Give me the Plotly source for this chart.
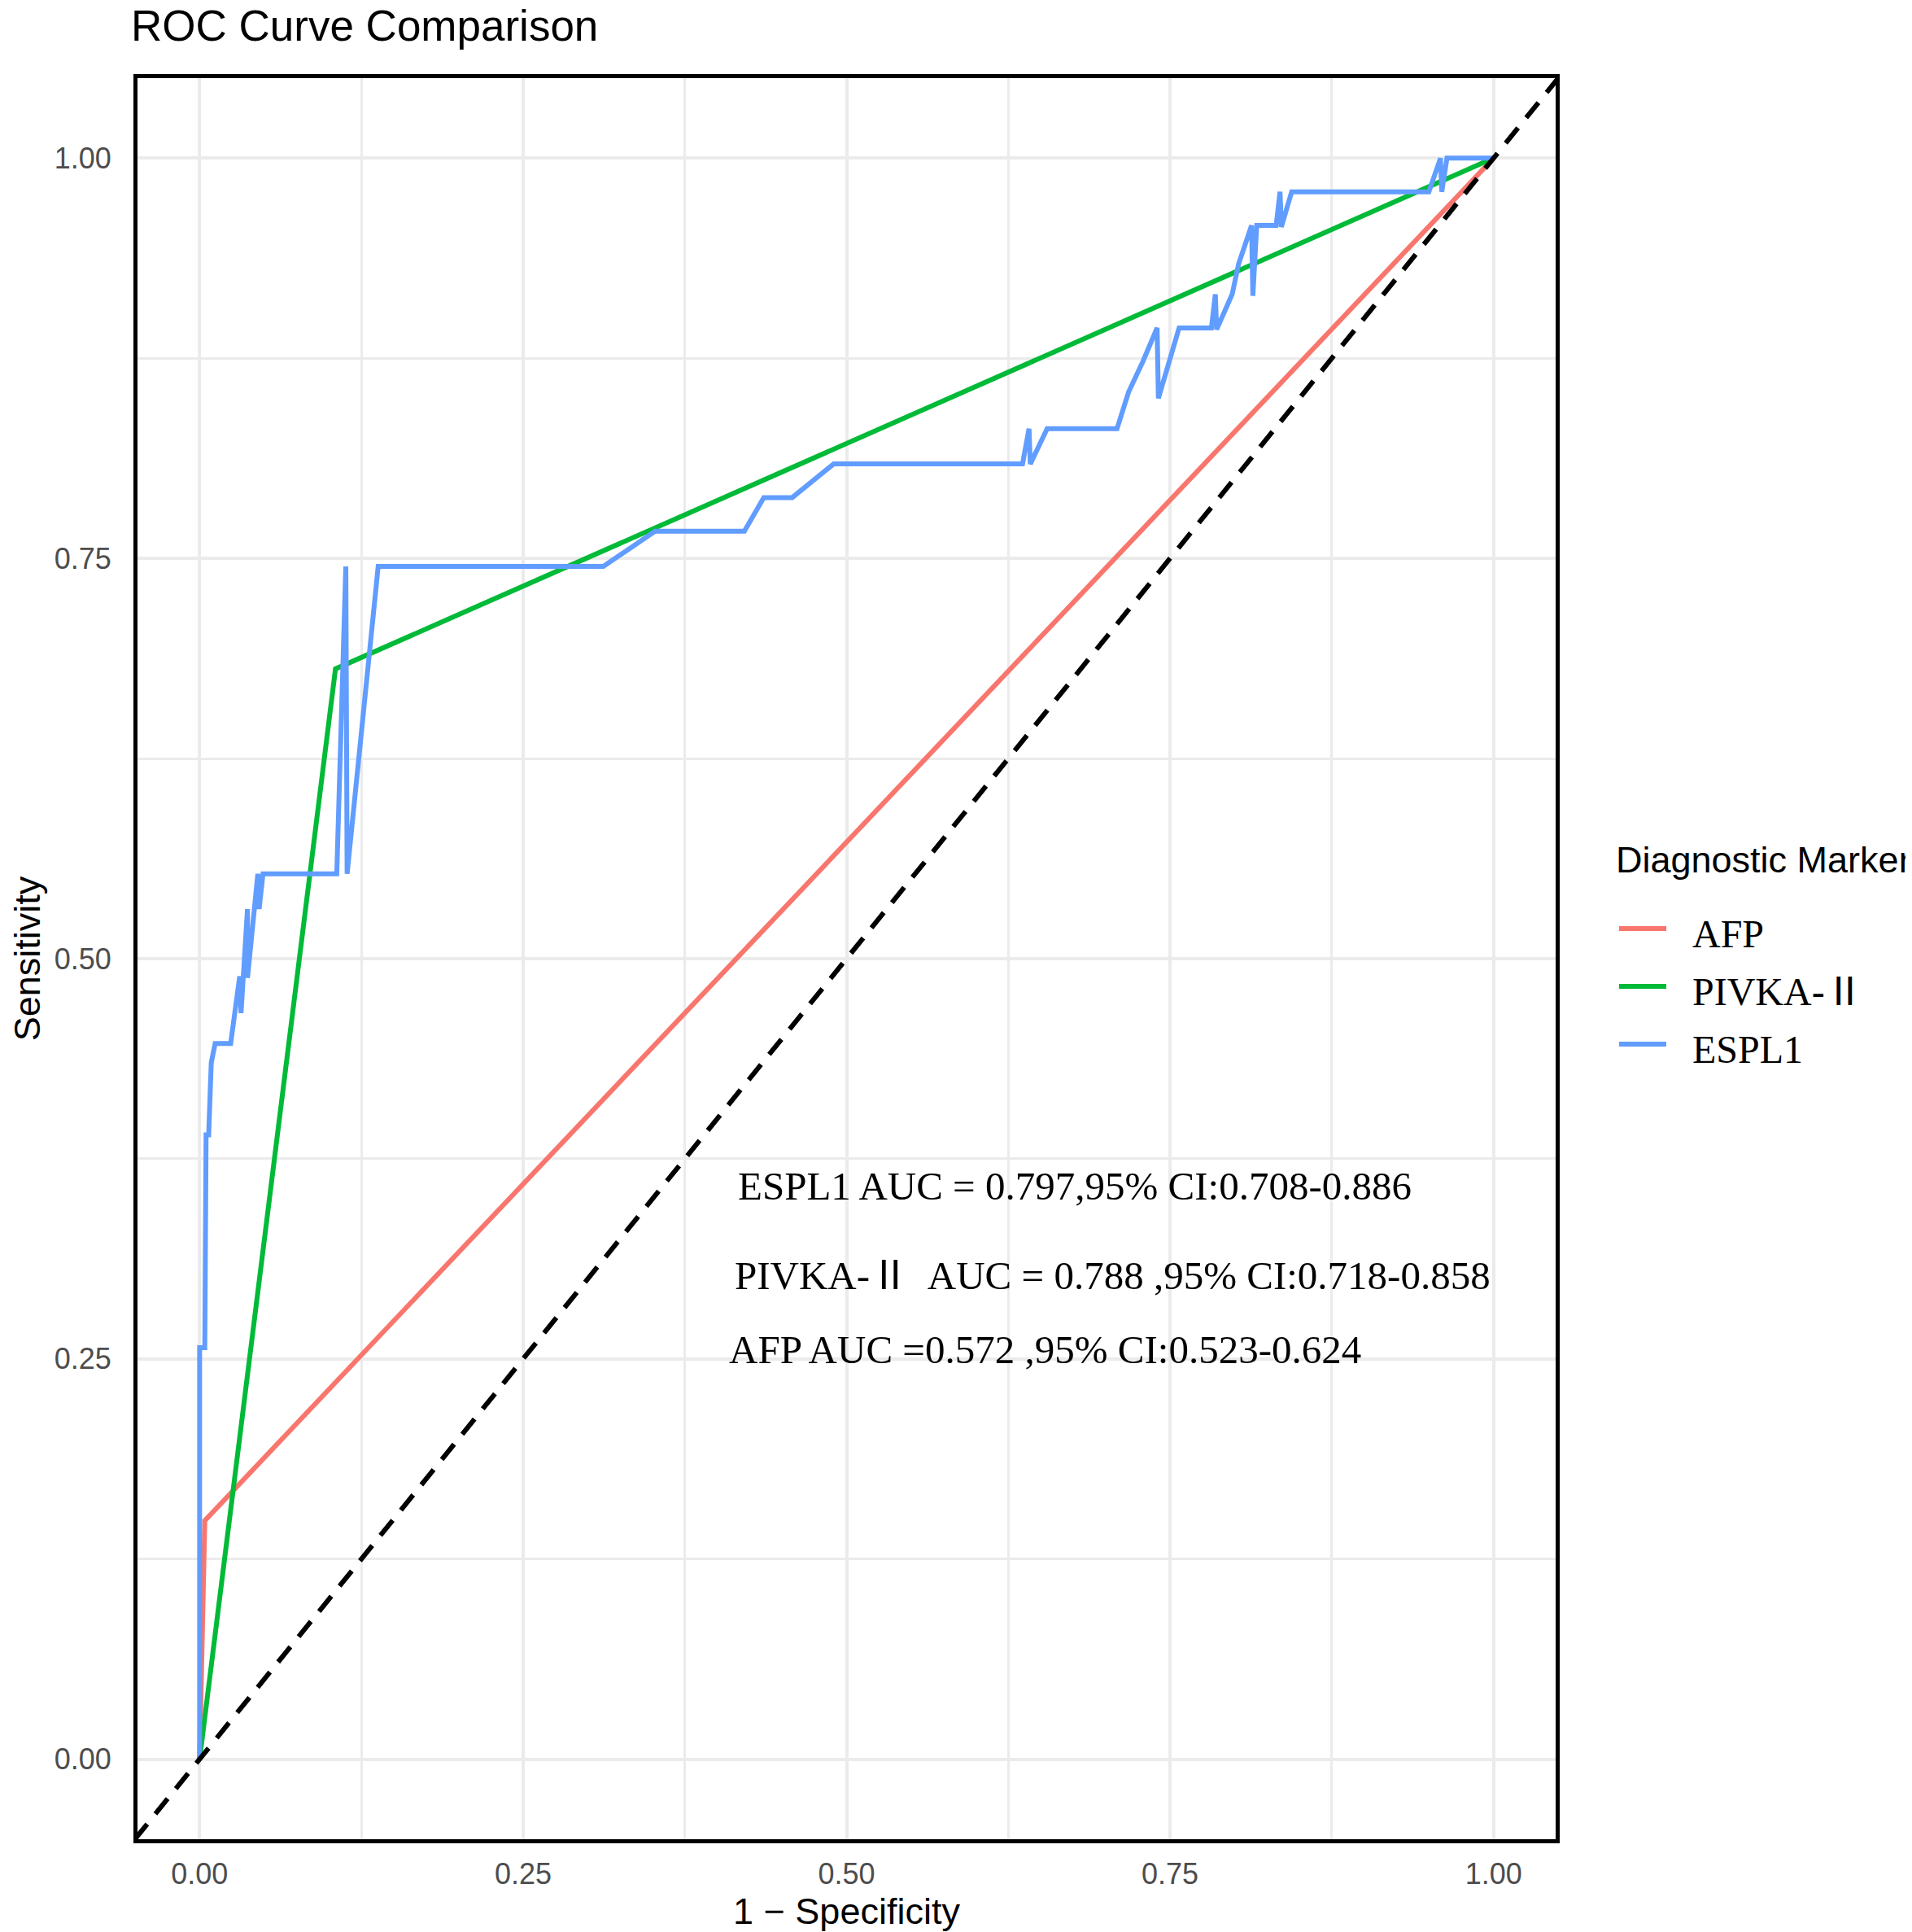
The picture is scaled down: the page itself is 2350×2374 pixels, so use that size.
import plotly.graph_objects as go

# ── ROC paths (1 - specificity, sensitivity) ─────────────────────────────────
afp_fpr  = [0.000, 0.004, 1.000]
afp_sens = [0.000, 0.149, 1.000]

pivka_fpr  = [0.000, 0.105, 1.000]
pivka_sens = [0.000, 0.681, 1.000]

espl1_fpr = [0.000, 0.000, 0.004, 0.005, 0.007, 0.008, 0.009, 0.012, 0.024,
             0.031, 0.032, 0.037, 0.037, 0.045, 0.046, 0.049, 0.106, 0.113,
             0.114, 0.138, 0.312, 0.352, 0.421, 0.436, 0.458, 0.490, 0.636,
             0.641, 0.642, 0.655, 0.709, 0.718, 0.729, 0.740, 0.741, 0.757,
             0.782, 0.785, 0.786, 0.798, 0.803, 0.813, 0.814, 0.817, 0.832,
             0.835, 0.836, 0.844, 0.950, 0.959, 0.960, 0.964, 1.000]
espl1_sens = [0.000, 0.257, 0.257, 0.390, 0.390, 0.425, 0.435, 0.447, 0.447,
              0.489, 0.466, 0.531, 0.488, 0.553, 0.531, 0.553, 0.553, 0.745,
              0.553, 0.745, 0.745, 0.767, 0.767, 0.788, 0.788, 0.809, 0.809,
              0.831, 0.809, 0.831, 0.831, 0.854, 0.873, 0.894, 0.850, 0.894,
              0.894, 0.915, 0.893, 0.915, 0.934, 0.958, 0.914, 0.958, 0.958,
              0.979, 0.957, 0.979, 0.979, 1.000, 0.979, 1.000, 1.000]

ref_line = [-0.05, 1.05]          # chance diagonal
tick_vals = [0.00, 0.25, 0.50, 0.75, 1.00]

markers = ["AFP", "PIVKA-Ⅱ", "ESPL1"]
colors  = ["#F8766D", "#00BA38", "#619CFF"]

auc_texts = ["ESPL1 AUC = 0.797,95% CI:0.708-0.886",
             "PIVKA-Ⅱ  AUC = 0.788 ,95% CI:0.718-0.858",
             "AFP AUC =0.572 ,95% CI:0.523-0.624"]
auc_x = [0.415, 0.412, 0.408]
auc_y = [0.358, 0.302, 0.256]

SANS  = "Liberation Sans, Arial, sans-serif"
SERIF = "Liberation Serif, Noto Sans CJK SC, serif"

# ── page geometry (px) ────────────────────────────────────────────────────────
W, H = 2350, 2374
ML, MT, PW, PH = 161, 88, 1743, 2164
MR, MB = W - ML - PW, H - MT - PH


def px_x(px):
    return (px - ML) / PW


def px_y(py):
    return 1 - (py - MT) / PH


fig = go.Figure()

for name, xs, ys, col in zip(markers,
                             [afp_fpr, pivka_fpr, espl1_fpr],
                             [afp_sens, pivka_sens, espl1_sens],
                             colors):
    fig.add_trace(go.Scatter(
        x=xs, y=ys, mode="lines", name=name, showlegend=False,
        line=dict(color=col, width=6),
    ))

# diagonal reference
fig.add_trace(go.Scatter(
    x=ref_line, y=ref_line, mode="lines", showlegend=False,
    line=dict(color="black", width=6, dash="24px,16px"),
    hoverinfo="skip",
))

for txt, xa, ya in zip(auc_texts, auc_x, auc_y):
    fig.add_annotation(
        x=xa, y=ya, xref="x", yref="y", text=txt,
        showarrow=False, xanchor="left", yanchor="middle",
        font=dict(family=SERIF, size=49, color="black"),
    )

# ── legend drawn by hand (ggplot-like spacing) ───────────────────────────────
fig.add_annotation(
    x=px_x(1976), y=px_y(1048), xref="paper", yref="paper",
    text="Diagnostic Marker", showarrow=False,
    xanchor="left", yanchor="middle",
    font=dict(family=SANS, size=45, color="black"),
)
for i, (name, col) in enumerate(zip(markers, colors)):
    ly = 1133 + i * 71
    fig.add_shape(type="line", xref="paper", yref="paper",
                  x0=px_x(1982), x1=px_x(2040), y0=px_y(ly), y1=px_y(ly),
                  line=dict(color=col, width=6))
    fig.add_annotation(
        x=px_x(2070), y=px_y(ly + 6), xref="paper", yref="paper",
        text=name, showarrow=False, xanchor="left", yanchor="middle",
        font=dict(family=SERIF, size=48, color="black"),
    )

axis_common = dict(
    tickvals=tick_vals, tickformat=".2f",
    tickfont=dict(family=SANS, size=36, color="#4D4D4D"),
    showgrid=True, gridcolor="#EBEBEB", gridwidth=3.5,
    minor=dict(dtick=0.125, tick0=0.125, showgrid=True,
               gridcolor="#EBEBEB", gridwidth=2.5),
    zeroline=False,
    showline=True, linecolor="black", linewidth=5, mirror=True,
    ticks="",
    automargin=False,
)

fig.update_xaxes(**axis_common, range=[-0.048, 1.048], ticklabelstandoff=7,
                 title=dict(text="1 − Specificity", standoff=9,
                            font=dict(family=SANS, size=45, color="black")))
fig.update_yaxes(**axis_common, range=[-0.05, 1.05], ticklabelstandoff=20,
                 title=dict(text="Sensitivity", standoff=41,
                            font=dict(family=SANS, size=45, color="black")))

fig.update_layout(
    width=W, height=H,
    margin=dict(l=ML, r=MR, t=MT, b=MB),
    plot_bgcolor="white", paper_bgcolor="white",
    title=dict(text="ROC Curve Comparison", x=153 / W, xref="container",
               xanchor="left", y=1 - 5 / H, yanchor="top",
               font=dict(family=SANS, size=53, color="black")),
    showlegend=False,
)

fig.write_html("out.html")
